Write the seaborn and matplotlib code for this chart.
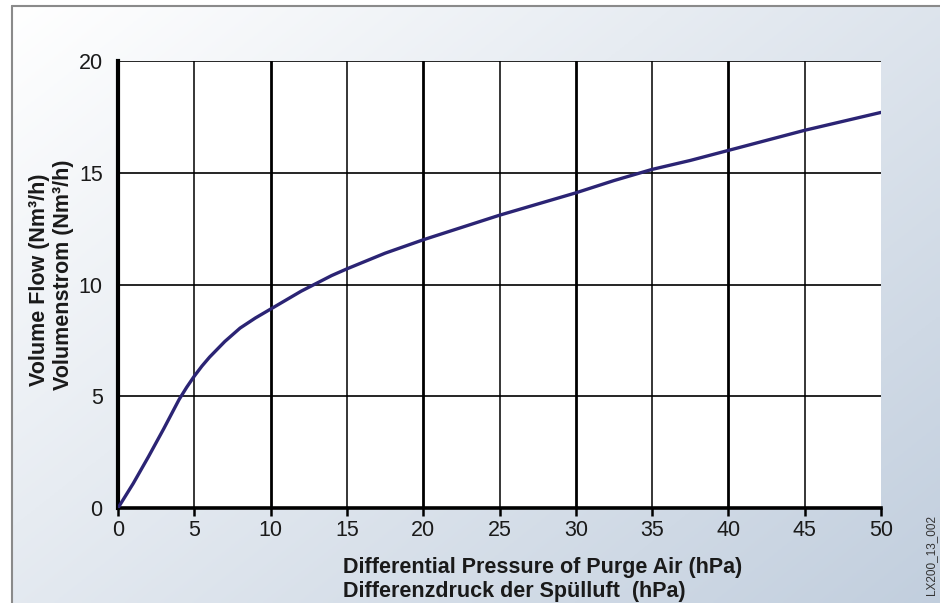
import numpy as np
import pandas as pd
import seaborn as sns
import matplotlib.pyplot as plt
from matplotlib.lines import Line2D

# values
pressure = [0, 1, 2, 3, 3.5, 4, 4.5, 5, 5.5, 6, 6.5, 7, 7.5, 8, 9, 10, 11, 12, 13, 14,
            15, 17.5, 20, 22.5, 25, 27.5, 30, 32.5, 35, 37.5, 40, 42.5, 45, 47.5, 50]
flow = [0, 1.1, 2.3, 3.55, 4.2, 4.85, 5.4, 5.9, 6.35, 6.75, 7.1, 7.45, 7.75, 8.05,
        8.5, 8.9, 9.3, 9.7, 10.05, 10.4, 10.7, 11.4, 12.0, 12.55, 13.1, 13.6, 14.1,
        14.65, 15.15, 15.55, 16.0, 16.45, 16.9, 17.3, 17.7]
x_ticks = [0, 5, 10, 15, 20, 25, 30, 35, 40, 45, 50]
y_ticks = [0, 5, 10, 15, 20]

df = pd.DataFrame({'p': pressure, 'q': flow})

sns.set_theme(style='white')
plt.rcParams['font.family'] = ['Liberation Sans', 'DejaVu Sans']

fig = plt.figure(figsize=(9.4, 6.03), dpi=100)

# gradient background panel
bg = fig.add_axes([12 / 940, 0, 1 - 12 / 940, 1 - 6 / 603])
gx, gy = np.meshgrid(np.linspace(0, 1, 200), np.linspace(0, 1, 200))
g = np.clip(0.55 * gx + 0.45 * gy, 0, 1)
c0 = np.array([1.0, 1.0, 1.0])
c1 = np.array([0.76, 0.81, 0.87])
img = c0 + (c1 - c0) * g[..., None]
bg.imshow(img, aspect='auto', extent=[0, 1, 0, 1], origin='upper')
bg.set_axis_off()
fig.add_artist(Line2D([12 / 940, 12 / 940], [0, 1 - 6 / 603], color='#8a8a8a', lw=1.5))
fig.add_artist(Line2D([12 / 940, 1], [1 - 6 / 603, 1 - 6 / 603], color='#8a8a8a', lw=1.5))

ax = fig.add_axes([118 / 940, 1 - 508 / 603, (881 - 118) / 940, (508 - 61) / 603])
ax.set_facecolor('white')

sns.lineplot(data=df, x='p', y='q', ax=ax, color='#2b2474', lw=2.4, zorder=5)

ax.set_xlim(0, 50)
ax.set_ylim(0, 20)
ax.set_xticks(x_ticks)
ax.set_yticks(y_ticks)

for v in x_ticks[1:-1]:
    ax.axvline(v, color='black', lw=2.0 if v % 10 == 0 else 1.1, zorder=2)
for v in y_ticks[1:]:
    ax.axhline(v, color='black', lw=1.2, zorder=2)

for s in ['top', 'right']:
    ax.spines[s].set_visible(False)
ax.spines['left'].set_linewidth(3)
ax.spines['bottom'].set_linewidth(2.6)
ax.spines['left'].set_color('black')
ax.spines['bottom'].set_color('black')

ax.tick_params(axis='x', direction='out', length=6, width=1.8, colors='black',
               labelsize=15.5, pad=3, bottom=True, labelcolor='#1a1a1a')
ax.tick_params(axis='y', length=0, labelsize=15.5, pad=11, labelcolor='#1a1a1a')

ax.set_xlabel('')
ax.set_ylabel('')

fig.text(343 / 940, 1 - 567 / 603, 'Differential Pressure of Purge Air (hPa)',
         fontsize=15.5, fontweight='bold', ha='left', va='center', color='#1a1a1a')
fig.text(343 / 940, 1 - 591 / 603, 'Differenzdruck der Spülluft  (hPa)',
         fontsize=15.5, fontweight='bold', ha='left', va='center', color='#1a1a1a')
fig.text(40 / 940, 1 - 280 / 603, 'Volume Flow (Nm³/h)', rotation=90,
         fontsize=15.5, fontweight='bold', ha='center', va='center', color='#1a1a1a')
fig.text(63 / 940, 1 - 275 / 603, 'Volumenstrom (Nm³/h)', rotation=90,
         fontsize=15.5, fontweight='bold', ha='center', va='center', color='#1a1a1a')
fig.text(931 / 940, 1 - 555 / 603, 'LX200_13_002', rotation=90,
         fontsize=8.5, ha='center', va='center', color='#333333')

fig.savefig('out.png', dpi=100)
